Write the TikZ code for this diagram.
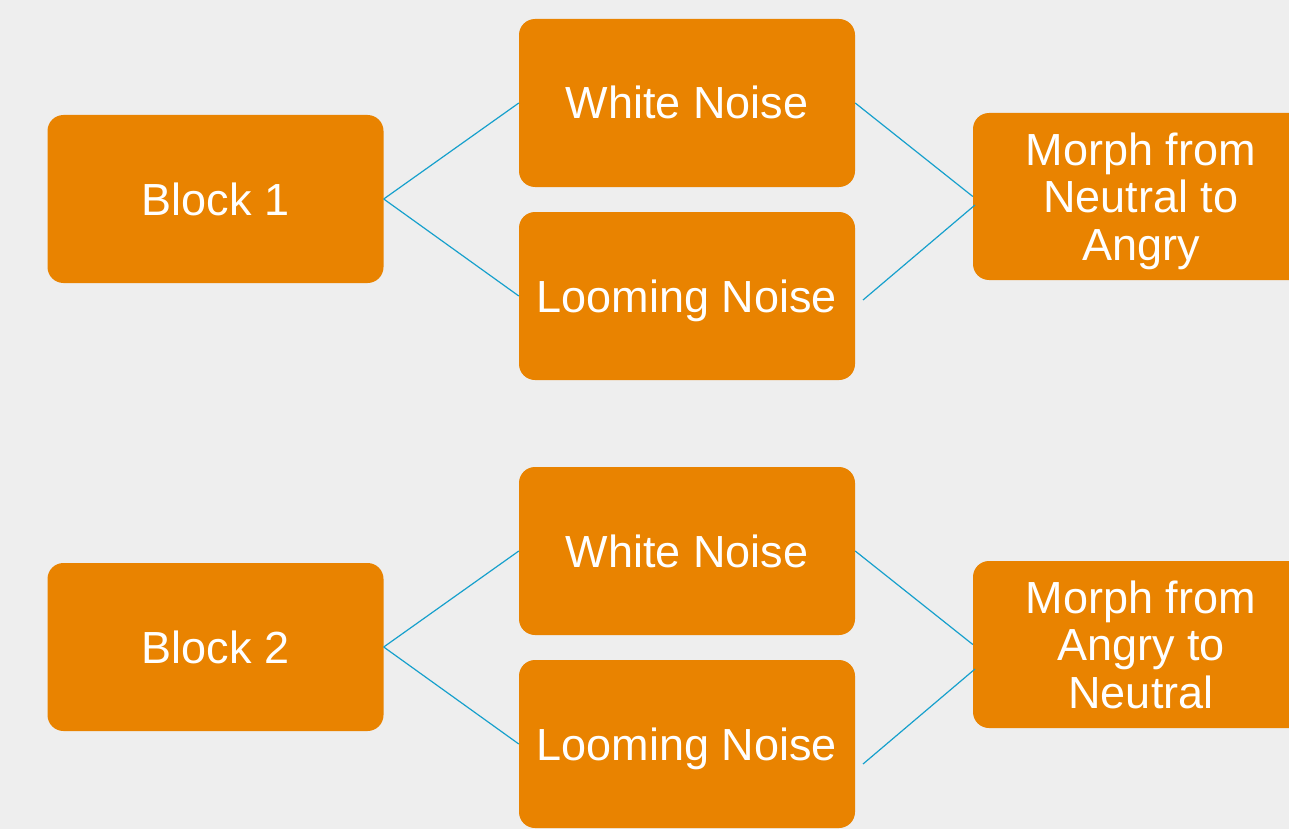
\documentclass[tikz,border=0pt]{standalone}
\usepackage{fontspec}
\setmainfont{Liberation Sans}
\definecolor{bg}{HTML}{EEEEEE}
\definecolor{boxorange}{HTML}{E98300}
\definecolor{linkblue}{HTML}{16A0CC}
\begin{document}
\begin{tikzpicture}[x=1pt,y=-1pt,
  box/.style={fill=boxorange, draw=none, rounded corners=16pt,
    minimum width=336pt, minimum height=168pt, inner sep=0pt,
    text=white, align=center,
    font=\fontsize{45}{47.5}\selectfont},
  onebox/.style={box, text height=32pt, text depth=0pt},
  morphbox/.style={box, minimum height=167pt, text depth=0pt},
  link/.style={draw=linkblue, line width=1.2pt}]
\fill[bg] (0,0) rectangle (1289,829);
\useasboundingbox (0,0) rectangle (1289,829);
\clip (0,0) rectangle (1289,829);
% group 1
\node[onebox] (b1) at (215.5,199) {Block 1};
\node[onebox] (w1) at (687,103) {White Noise};
\node[onebox] (l1) at (687,296) {Looming Noise};
\node[morphbox] (m1) at (1141,196.5) {Morph from\\Neutral to\\Angry};
% group 2
\node[onebox] (b2) at (215.5,647) {Block 2};
\node[onebox] (w2) at (687,551) {White Noise};
\node[onebox] (l2) at (687,744) {Looming Noise};
\node[morphbox] (m2) at (1141,644.5) {Morph from\\Angry to\\Neutral};
% free ends of the lower right links
\coordinate (l1s) at (863,300);
\coordinate (m1e) at (975,205);
\coordinate (l2s) at (863,764);
\coordinate (m2e) at (975,669);
\draw[link] (b1.east) -- (w1.west);
\draw[link] (b1.east) -- (l1.west);
\draw[link] (w1.east) -- (m1.west);
\draw[link] (l1s) -- (m1e);
\draw[link] (b2.east) -- (w2.west);
\draw[link] (b2.east) -- (l2.west);
\draw[link] (w2.east) -- (m2.west);
\draw[link] (l2s) -- (m2e);
\end{tikzpicture}
\end{document}
